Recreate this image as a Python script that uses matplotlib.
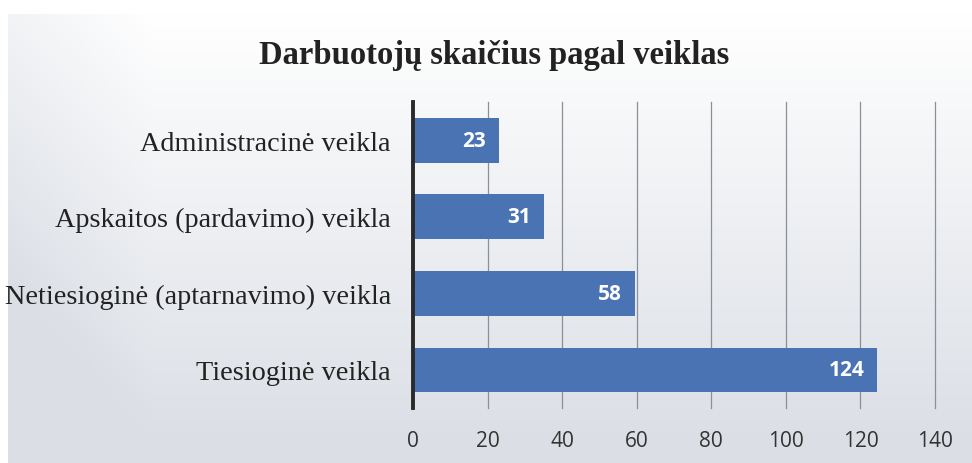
import numpy as np
import matplotlib
matplotlib.use("Agg")
import matplotlib.pyplot as plt

title = "Darbuotojų skaičius pagal veiklas"
categories = ["Administracinė veikla", "Apskaitos (pardavimo) veikla",
              "Netiesioginė (aptarnavimo) veikla", "Tiesioginė veikla"]
bar_lengths = [23, 35, 59.5, 124.5]   # as drawn in the picture
labels = ["23", "31", "58", "124"]    # data labels printed on the bars
xticks = [0, 20, 40, 60, 80, 100, 120, 140]

fig = plt.figure(figsize=(9.72, 4.64), dpi=100)
fig.patch.set_facecolor("white")

# background gradient (scan look)
bg = fig.add_axes([0.008, 0.0, 0.992, 0.968], zorder=-10)
h, w = 200, 400
yy, xx = np.mgrid[0:1:h*1j, 0:1:w*1j]
top = np.array([1.0, 1.0, 1.0])
bot = np.array([0.86, 0.875, 0.9])
t = np.clip(yy * 1.05 + np.clip(0.15 - xx, 0, None) * 2.5, 0, 1)[..., None]
img = top * (1 - t) + bot * t
bg.imshow(img, aspect="auto", extent=[0, 1, 0, 1])
bg.axis("off")

ax = fig.add_axes([0.425, 0.118, 0.537, 0.660])
ax.set_facecolor("none")
y = np.arange(len(categories))
bars = ax.barh(y, bar_lengths, height=0.585, color="#4a73b3", zorder=3)
ax.set_ylim(len(categories) - 0.5, -0.5)
ax.set_xlim(0, 140)
ax.set_xticks(xticks)
ax.set_xticklabels([str(v) for v in xticks], fontsize=15, family="Open Sans", color="#333333")
ax.set_yticks(y)
ax.set_yticklabels(categories, fontsize=20.3, family="Liberation Serif", color="#222222")
ax.tick_params(axis="y", length=0, pad=16)
ax.tick_params(axis="x", length=0, pad=16)
ax.grid(axis="x", color="#8a9098", linewidth=0.9, zorder=0)
for gl in ax.get_xgridlines():
    gl.set_clip_on(False)
for s in ["top", "right", "bottom"]:
    ax.spines[s].set_visible(False)
ax.spines["left"].set_color("#2a2a2a")
ax.spines["left"].set_linewidth(2.8)
ax.spines["left"].set_zorder(4)

for b, lab in zip(bars, labels):
    ax.text(b.get_width() - 3.5, b.get_y() + b.get_height() / 2, lab,
            ha="right", va="center", color="white", fontsize=15,
            fontweight="bold", family="Open Sans", zorder=5)

fig.text(0.508, 0.88, title, ha="center", va="center", fontsize=23.5,
         fontweight="bold", family="Liberation Serif", color="#222222")

fig.savefig("out.png", dpi=100)
